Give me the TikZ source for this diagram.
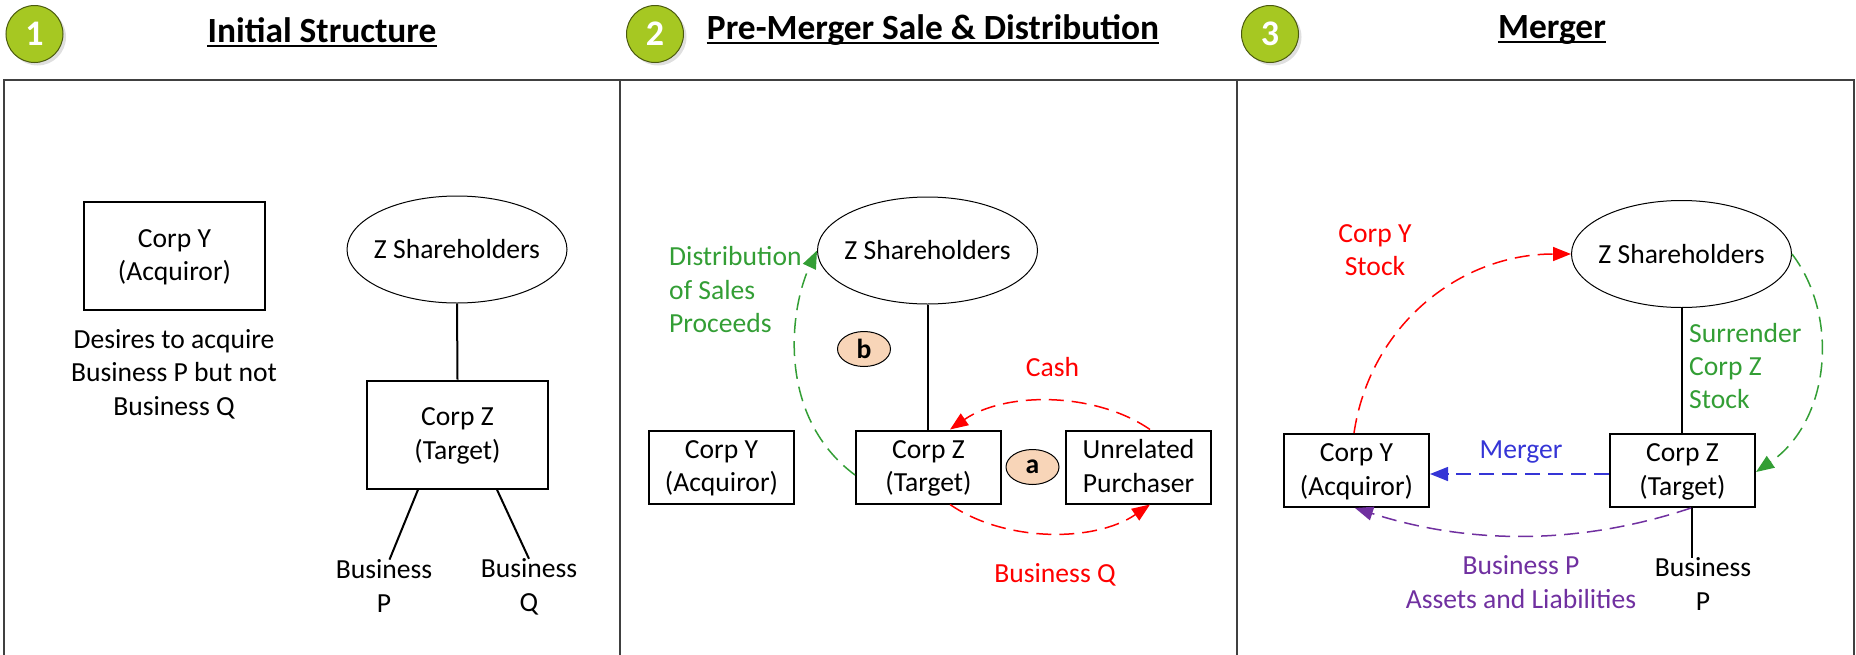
\documentclass[tikz,border=0pt]{standalone}
\usepackage{fontspec}
\setmainfont{Carlito}
\usetikzlibrary{arrows.meta,shapes.geometric,shadows}
\definecolor{badgegreen}{HTML}{A6C822}
\definecolor{flowred}{HTML}{FF0000}
\definecolor{flowgreen}{HTML}{339E35}
\definecolor{flowblue}{HTML}{3535D6}
\definecolor{flowpurple}{HTML}{7030A0}
\definecolor{notefill}{HTML}{F8D5B8}
\tikzset{
	every node/.style={font=\fontsize{27.6}{33.4}\selectfont, align=center, inner sep=0pt},
	corp/.style={draw, line width=2pt, minimum height=73pt, text depth=2pt},
	holders/.style={draw, ellipse, line width=1pt, inner xsep=-6pt, minimum width=220pt, minimum height=107pt},
	badge/.style={circle, draw=black!55!badgegreen, line width=1pt, fill=badgegreen, minimum size=57pt, text=white,
		font=\fontsize{36}{36}\selectfont\bfseries, drop shadow={shadow xshift=3pt, shadow yshift=-3pt, opacity=0.25}},
	note/.style={ellipse, draw, line width=1pt, fill=notefill, minimum width=53pt, minimum height=35pt, font=\fontsize{27.6}{27.6}\selectfont\bfseries},
	headline/.style={font=\fontsize{35.4}{35.4}\selectfont\bfseries},
	flow/.style={line width=1.5pt, dash pattern=on 15pt off 8pt, -{Triangle[length=18pt, width=14pt]}},
	tie/.style={line width=2pt}
}
\begin{document}
\begin{tikzpicture}[x=1pt, y=-1pt]
	\useasboundingbox (0, 0) rectangle (1856, 654);
	\foreach \i/\j in {4/620, 620/1237, 1237/1854}
		\draw[line width=2pt, black!75] (\i, 660) -- (\i, 80) -- (\j, 80) -- (\j, 660);
	\foreach \i/\j in {1/34.5, 2/655, 3/1270}
		\node[badge] (badge\i) at (\j, 34) {\i};
	\node[headline] (titlea) at (322, 30) {Initial Structure};
	\node[headline] (titleb) at (933, 30) {Pre-Merger Sale \& Distribution};
	\node[headline] (titlec) at (1552, 30) {Merger};
	\foreach \t in {titlea, titleb, titlec}
		\draw[line width=2.5pt] ([yshift=-3.5pt]\t.base west) -- ([yshift=-3.5pt]\t.base east);

	\node[corp, minimum width=181pt, minimum height=108pt] (acquirora) at (174.5, 256) {Corp Y\\(Acquiror)};
	\node (desires) at (174, 374) {Desires to acquire\\Business P but not\\Business Q};
	\node[holders] (holdersa) at (457, 249.5) {Z Shareholders};
	\node[corp, minimum width=181pt, minimum height=108pt] (targeta) at (457.5, 434.7) {Corp Z\\(Target)};
	\node (businesspa) at (384, 586) {Business\\P};
	\node (businessqa) at (529, 587) {Business\\Q};
	\draw[tie] (holdersa.south) -- (targeta.north);
	\draw[tie] ([xshift=-39.5pt]targeta.south) -- ([xshift=5.5pt]businesspa.north);
	\draw[tie] ([xshift=39.5pt]targeta.south) -- (businessqa.north);

	\node[holders] (holdersb) at (927.5, 250.5) {Z Shareholders};
	\node[corp, minimum width=145pt] (acquirorb) at (721.5, 467) {Corp Y\\(Acquiror)};
	\node[corp, minimum width=145pt] (targetb) at (928.5, 467) {Corp Z\\(Target)};
	\node[corp, minimum width=145pt] (purchaser) at (1138.5, 467) {Unrelated\\Purchaser};
	\node[note] (notea) at (1032.5, 467) {a};
	\node[note] (noteb) at (864, 349) {b};
	\node[text=flowgreen, anchor=west, align=left] (proceeds) at (669, 289.7) {Distribution\\of Sales\\Proceeds};
	\node[text=flowred] (cash) at (1052.5, 367.5) {Cash};
	\node[text=flowred] (businessqb) at (1055, 575) {Business Q};
	\draw[tie] (holdersb.south) -- (holdersb.south |- targetb.north);
	\draw[flow, flowgreen] ([yshift=-8pt]targetb.west) .. controls +(-78, -58) and +(-28, 60) .. (holdersb.west);
	\draw[flow, flowred] ([xshift=11.5pt]purchaser.north) .. controls +(-55, -38) and +(55, -38) .. ([xshift=21.5pt]targetb.north);
	\draw[flow, flowred] ([xshift=21.5pt]targetb.south) .. controls +(55, 38) and +(-55, 38) .. ([xshift=11.5pt]purchaser.south);

	\node[holders] (holdersc) at (1681.5, 254) {Z Shareholders};
	\node[corp, minimum width=145pt] (acquirorc) at (1356.5, 470.5) {Corp Y\\(Acquiror)};
	\node[corp, minimum width=145pt] (targetc) at (1682.5, 470.5) {Corp Z\\(Target)};
	\node (businesspc) at (1703, 584) {Business\\P};
	\node[text=flowred] (corpstock) at (1375, 250) {Corp Y\\Stock};
	\node[text=flowgreen, anchor=west, align=left] (surrender) at (1689, 366) {Surrender\\Corp Z\\Stock};
	\node[text=flowblue] (merger) at (1521, 452) {Merger};
	\node[text=flowpurple] (assets) at (1521, 582) {Business P\\Assets and Liabilities};
	\draw[tie] (holdersc.south) -- (holdersc.south |- targetc.north);
	\draw[tie] ([xshift=9.5pt]targetc.south) -- ([xshift=-11pt]businesspc.north);
	\draw[flow, flowred] ([xshift=-2.5pt]acquirorc.north) .. controls +(16, -108) and +(-111, 0) .. (holdersc.west);
	\draw[flow, flowgreen] (holdersc.east) .. controls +(48, 63) and +(74, -51) .. ([yshift=-1.5pt]targetc.east);
	\draw[flow, flowblue] (targetc.west |- 0, 474) -- (acquirorc.east |- 0, 474);
	\draw[flow, flowpurple] ([xshift=8.5pt]targetc.south) .. controls +(-111, 37) and +(115, 37) .. ([xshift=-1.5pt]acquirorc.south);
\end{tikzpicture}
\end{document}
